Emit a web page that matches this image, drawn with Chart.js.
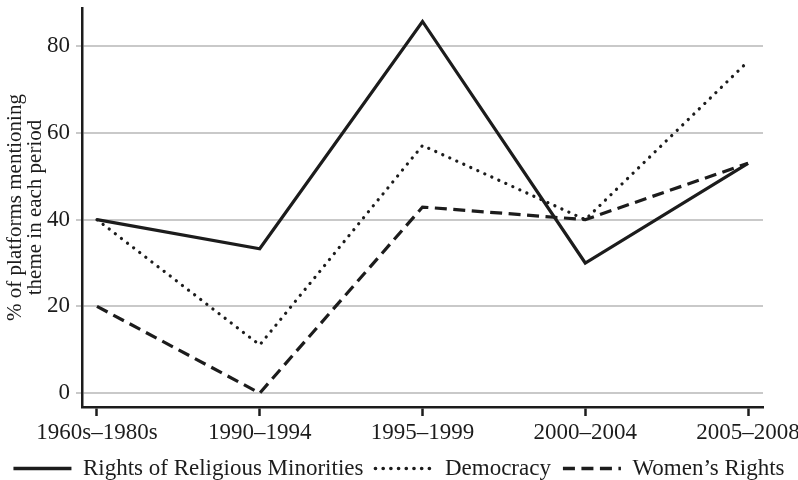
<!DOCTYPE html>
<html>
<head>
<meta charset="utf-8">
<script src="https://cdn.jsdelivr.net/npm/chart.js@4"></script>
<style>
  html, body { margin: 0; padding: 0; background: #fff; }
  #wrap { width: 798px; height: 480px; }
</style>
</head>
<body>
<div id="wrap"><canvas id="chart"></canvas></div>
<script>
// values
const periods    = ['1960s–1980s', '1990–1994', '1995–1999', '2000–2004', '2005–2008'];
const religious  = [40, 33.3, 85.7, 30, 53];
const democracy  = [40, 11.1, 57.1, 40, 76.5];
const womens     = [20, 0, 42.9, 40, 53];
const yTicks     = [0, 20, 40, 60, 80];

const INK  = '#1c1c1c';
const GRID = '#c9c9c9';
const FONT = 'Liberation Serif, Times New Roman, serif';

const toPoints = arr => arr.map((v, i) => ({ x: i, y: v }));

function series(label, values, dash, cap) {
  return {
    label,
    data: toPoints(values),
    borderColor: INK,
    backgroundColor: INK,
    borderWidth: 3.2,
    borderDash: dash,
    borderCapStyle: cap,
    borderJoinStyle: 'miter',
    pointRadius: 0,
    pointStyle: 'line',
    tension: 0,
    clip: false,
  };
}

// legend items with the dataset's own dash (point style otherwise drops it)
function legendLabels(chart) {
  const base = Chart.defaults.plugins.legend.labels.generateLabels(chart);
  return base.map((item, i) => {
    const ds = chart.data.datasets[i];
    return Object.assign(item, {
      lineDash: ds.borderDash,
      lineCap: ds.borderCapStyle,
      lineWidth: 3.6,
      strokeStyle: INK,
      pointStyle: 'line',
    });
  });
}

new Chart(document.getElementById('chart'), {
  type: 'line',
  data: {
    datasets: [
      series('Rights of Religious Minorities', religious, [], 'butt'),
      series('Democracy', democracy, [0.1, 7.6], 'round'),
      series('Women’s Rights', womens, [12, 6.5], 'butt'),
    ]
  },
  options: {
    responsive: true,
    maintainAspectRatio: false,
    animation: false,
    layout: { padding: { top: 8, right: 0, left: 0, bottom: -10 } },
    plugins: {
      tooltip: { enabled: false },
      legend: {
        position: 'bottom',
        labels: {
          usePointStyle: true,
          pointStyleWidth: 58,
          color: INK,
          padding: 12,
          font: { family: FONT, size: 23 },
          generateLabels: legendLabels,
        }
      }
    },
    scales: {
      x: {
        type: 'linear',
        min: -0.092,
        max: 4.092,
        afterBuildTicks: s => { s.ticks = periods.map((_, i) => ({ value: i })); },
        afterFit: s => { s.height = 38; s.paddingLeft = 0; s.paddingRight = 0; },
        grid: {
          display: true,
          drawOnChartArea: false,
          drawTicks: true,
          tickLength: 9,
          tickColor: INK,
          tickWidth: 2.5,
        },
        border: { display: true, color: INK, width: 2.5 },
        ticks: {
          color: INK,
          padding: 3,
          maxRotation: 0,
          autoSkip: false,
          font: { family: FONT, size: 23 },
          callback: v => periods[v],
        }
      },
      y: {
        min: -3.2,
        max: 88.8,
        afterBuildTicks: s => { s.ticks = yTicks.map(v => ({ value: v })); },
        afterFit: s => { s.width = 82; s.paddingTop = 0; s.paddingBottom = 0; },
        grid: {
          color: GRID,
          lineWidth: 2,
          tickLength: 6,
        },
        border: { display: true, color: INK, width: 2.5 },
        ticks: {
          color: INK,
          padding: 6,
          font: { family: FONT, size: 23 },
        },
        title: {
          display: true,
          text: ['% of platforms mentioning', 'theme in each period'],
          color: INK,
          padding: { top: 6, bottom: 0 },
          font: { family: FONT, size: 21, lineHeight: 0.95 },
        }
      },
      // empty right-hand strip so the plot stops short of the edge
      // while the legend still gets the full width
      yRight: {
        position: 'right',
        display: true,
        grid: { display: false },
        border: { display: false },
        ticks: { display: false },
        afterFit: s => { s.width = 35; s.paddingTop = 0; s.paddingBottom = 0; },
      }
    }
  }
});
</script>
</body>
</html>
